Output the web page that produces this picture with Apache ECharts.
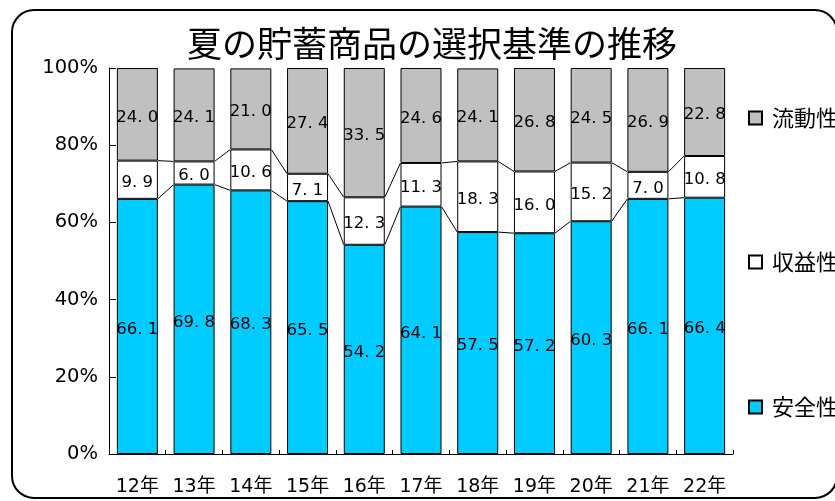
<!DOCTYPE html>
<html>
<head>
<meta charset="utf-8">
<script src="https://cdn.jsdelivr.net/npm/echarts@6/dist/echarts.min.js"></script>
<style>
  html, body { margin: 0; padding: 0; background: #fff; }
  #chart { width: 835px; height: 501px; }
</style>
</head>
<body>
<div id="chart"></div>
<script>
// 年ごとの選択基準（%）
const years = ['12年', '13年', '14年', '15年', '16年', '17年', '18年', '19年', '20年', '21年', '22年']
const safety = [66.1, 69.8, 68.3, 65.5, 54.2, 64.1, 57.5, 57.2, 60.3, 66.1, 66.4]
const profit = [9.9, 6.0, 10.6, 7.1, 12.3, 11.3, 18.3, 16.0, 15.2, 7.0, 10.8]
const liquidity = [24.0, 24.1, 21.0, 27.4, 33.5, 24.6, 24.1, 26.8, 24.5, 26.9, 22.8]
const yTicks = [0, 20, 40, 60, 80, 100]

const BAR_W = 41
const latin = 'DejaVu Sans, "Noto Sans CJK JP", sans-serif'
const cjk = '"Noto Sans CJK JP", sans-serif'

// 系列線用：各境界の累積値
const cum1 = safety
const cum2 = safety.map((v, i) => v + profit[i])
const linkData = []
for (let i = 0; i < years.length - 1; i++) {
  linkData.push([i, cum1[i], cum1[i + 1], cum2[i], cum2[i + 1]])
}

const fmt = p => p.value.toFixed(1).replace('.', '. ')

const barBase = {
  type: 'bar',
  stack: 'total',
  barWidth: BAR_W,
  label: {
    show: true,
    position: 'inside',
    offset: [0, 3],
    color: '#000',
    fontFamily: latin,
    fontSize: 16.5,
    formatter: fmt
  }
}

const chart = echarts.init(document.getElementById('chart'))
chart.setOption({
  animation: false,
  grid: { left: 109, right: 102, top: 68, bottom: 47 },
  graphic: [{
    type: 'rect',
    shape: { x: 12, y: 10, width: 825, height: 488, r: 22 },
    style: { fill: 'none', stroke: '#000', lineWidth: 2 },
    z: -10
  }, {
    type: 'text',
    x: 432,
    y: 44,
    style: {
      text: '夏の貯蓄商品の選択基準の推移',
      font: '35px ' + cjk,
      fill: '#000',
      align: 'center',
      verticalAlign: 'middle'
    }
  }],
  legend: [
    { name: '流動性', top: 107 },
    { name: '収益性', top: 251 },
    { name: '安全性', top: 396 }
  ].map(l => ({
    data: [l.name],
    left: 748,
    top: l.top,
    orient: 'vertical',
    icon: 'rect',
    itemWidth: 13,
    itemHeight: 13,
    itemGap: 0,
    selectedMode: false,
    padding: 0,
    textStyle: { color: '#000', fontFamily: cjk, fontSize: 22, padding: [3, 0, 0, 5] }
  })),
  xAxis: {
    type: 'category',
    data: years,
    boundaryGap: true,
    axisLine: { lineStyle: { color: '#000', width: 1 } },
    axisTick: { show: true, inside: true, length: 4, lineStyle: { color: '#000' } },
    axisLabel: { color: '#000', fontFamily: latin, fontSize: 19, margin: 24 },
    splitLine: { show: false }
  },
  yAxis: {
    type: 'value',
    min: yTicks[0],
    max: yTicks[yTicks.length - 1],
    interval: yTicks[1] - yTicks[0],
    axisLine: { show: true, lineStyle: { color: '#000', width: 1 } },
    axisTick: { show: true, inside: true, length: 7, lineStyle: { color: '#000' } },
    axisLabel: {
      color: '#000',
      fontFamily: latin,
      fontSize: 19.5,
      margin: 11,
      padding: [8, 0, 0, 0],
      formatter: '{value}%'
    },
    splitLine: { show: false }
  },
  series: [
    Object.assign({}, barBase, {
      name: '安全性',
      data: safety,
      itemStyle: { color: '#00CCFF', borderColor: '#000', borderWidth: 1 }
    }),
    Object.assign({}, barBase, {
      name: '収益性',
      data: profit,
      itemStyle: { color: '#FFFFFF', borderColor: '#000', borderWidth: 1 }
    }),
    Object.assign({}, barBase, {
      name: '流動性',
      data: liquidity,
      itemStyle: { color: '#C0C0C0', borderColor: '#000', borderWidth: 1 }
    }),
    {
      type: 'custom',
      name: 'links',
      data: linkData,
      encode: { x: 0, y: [1, 2, 3, 4] },
      z: 5,
      silent: true,
      renderItem: (params, api) => {
        const i = api.value(0)
        const half = BAR_W / 2
        const seg = (a, b) => {
          const p1 = api.coord([i, a])
          const p2 = api.coord([i + 1, b])
          return {
            type: 'line',
            shape: { x1: p1[0] + half, y1: p1[1], x2: p2[0] - half, y2: p2[1] },
            style: { stroke: '#000', lineWidth: 1 }
          }
        }
        return {
          type: 'group',
          children: [seg(api.value(1), api.value(2)), seg(api.value(3), api.value(4))]
        }
      }
    }
  ]
})
</script>
</body>
</html>
